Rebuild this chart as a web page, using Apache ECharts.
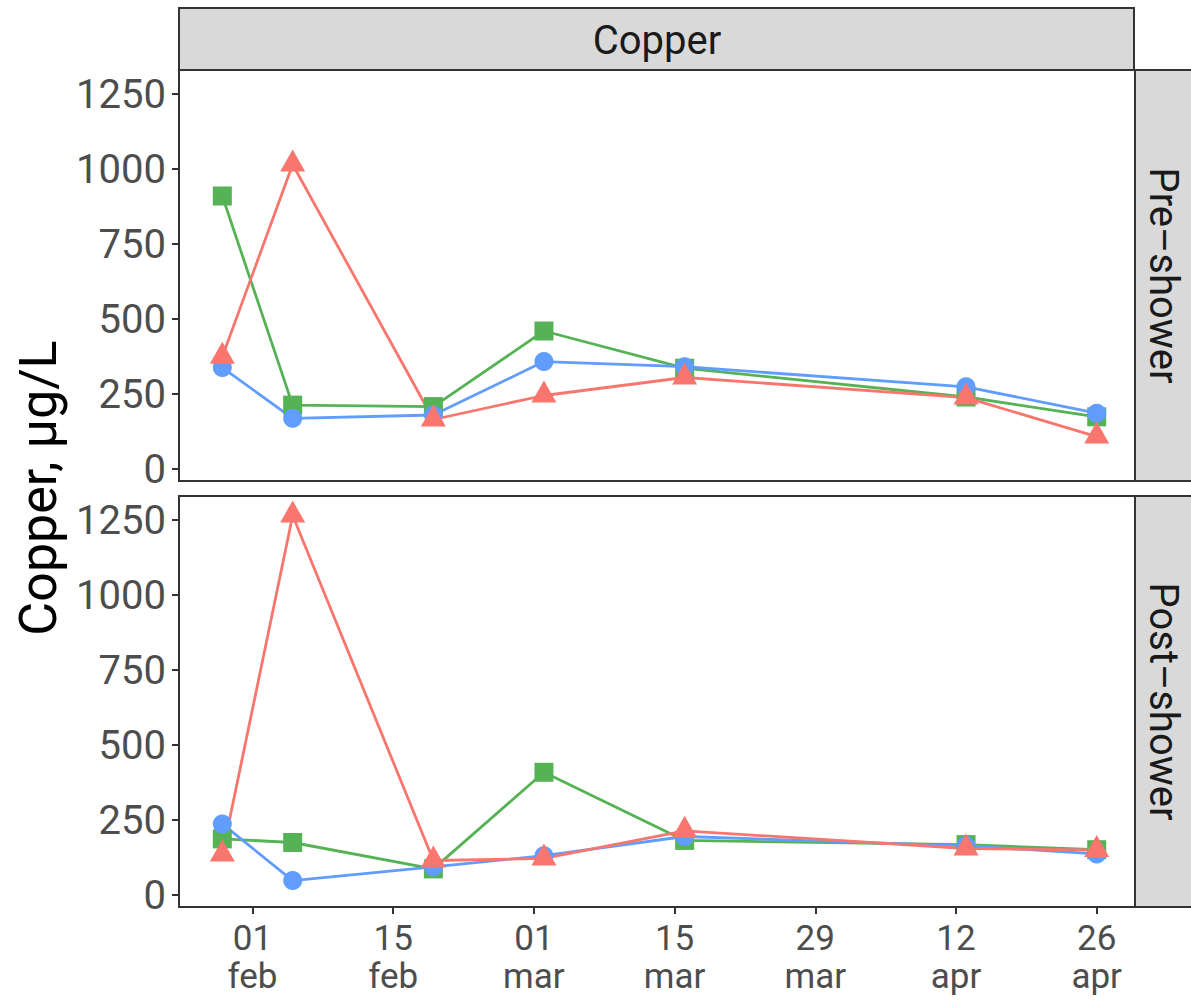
<!DOCTYPE html>
<html><head><meta charset="utf-8">
<script src="https://cdn.jsdelivr.net/npm/echarts@6/dist/echarts.min.js"></script>
<style>html,body{margin:0;padding:0;background:#fff}#chart{width:1191px;height:1002px}</style>
</head><body><div id="chart"></div>
<script>
// ---- data ----
const sampleDates = ['2019-01-29','2019-02-05','2019-02-19','2019-03-02','2019-03-16','2019-04-13','2019-04-26'];
const preGreen  = [910, 213, 208, 460, 336, 240, 174];
const preBlue   = [338, 169, 180, 358, 341, 274, 186];
const preRed    = [374, 1015, 165, 245, 305, 238, 108];
const postGreen = [187, 175, 87, 409, 182, 168, 151];
const postBlue  = [237, 48, 94, 131, 195, 164, 137];
const postRed   = [135, 1265, 115, 122, 214, 155, 150];
const tickDates  = ['2019-02-01','2019-02-15','2019-03-01','2019-03-15','2019-03-29','2019-04-12','2019-04-26'];
const tickLabels = ['01\nfeb','15\nfeb','01\nmar','15\nmar','29\nmar','12\napr','26\napr'];
const yTicks = [0, 250, 500, 750, 1000, 1250];
const panelNames = ['Pre–shower', 'Post–shower'];
const facetTitle = 'Copper';
const yTitle = 'Copper, µg/L';

// ---- helpers ----
const DAY = 86400000;
const ORIGIN = Date.UTC(2019, 1, 1);
function dayOf(s) { const p = s.split('-').map(Number); return (Date.UTC(p[0], p[1] - 1, p[2]) - ORIGIN) / DAY; }
const xDays = sampleDates.map(dayOf);
const tickDays = tickDates.map(dayOf);

const GREEN = '#55B255', BLUE = '#619CFF', RED = '#F8766D';
const FONT = 'Roboto';
const groups = [
  { name: 'Group B', color: GREEN, symbol: 'rect', size: 19, offset: [0, 0] },
  { name: 'Group C', color: BLUE, symbol: 'circle', size: 19, offset: [0, 0] },
  { name: 'Group A', color: RED, symbol: 'triangle', size: [25, 22], offset: [0, -4] }
];
const panelData = [[preGreen, preBlue, preRed], [postGreen, postBlue, postRed]];

const L = 179, W = 956;
const grids = [
  { left: L, top: 70, width: W, height: 411 },
  { left: L, top: 496, width: W, height: 411 }
].map(g => Object.assign(g, { show: true, borderColor: '#333333', borderWidth: 2, backgroundColor: '#ffffff', containLabel: false }));

const xMin = -7.31, xMax = 87.81;
const xAxes = [0, 1].map(i => ({
  type: 'value', gridIndex: i, min: xMin, max: xMax, position: 'bottom',
  splitLine: { show: false }, axisLine: { show: false, onZero: false },
  axisTick: { show: i === 1, customValues: tickDays, length: 7, lineStyle: { color: '#333333', width: 2 } },
  axisLabel: {
    show: i === 1, customValues: tickDays, margin: 12,
    fontFamily: FONT, fontSize: 35, lineHeight: 38, color: '#4D4D4D',
    formatter: v => { const k = tickDays.findIndex(t => Math.abs(t - v) < 1e-6); return k >= 0 ? tickLabels[k] : ''; }
  }
}));
const yAxes = [0, 1].map(i => ({
  type: 'value', gridIndex: i, min: -40, max: 1330, position: 'left',
  splitLine: { show: false }, axisLine: { show: false, onZero: false },
  axisTick: { show: true, customValues: yTicks, length: 7, lineStyle: { color: '#333333', width: 2 } },
  axisLabel: { customValues: yTicks, margin: 13, fontFamily: FONT, fontSize: 40, color: '#4D4D4D',
    formatter: v => String(Math.round(v)) }
}));

const series = [];
[0, 1].forEach(p => {
  groups.forEach((g, k) => {
    series.push({
      type: 'line', name: g.name, xAxisIndex: p, yAxisIndex: p,
      data: xDays.map((x, j) => [x, panelData[p][k][j]]),
      symbol: 'none', lineStyle: { color: g.color, width: 2.8 }, z: 2, silent: true, animation: false
    });
  });
  groups.forEach((g, k) => {
    series.push({
      type: 'scatter', name: g.name, xAxisIndex: p, yAxisIndex: p,
      data: xDays.map((x, j) => [x, panelData[p][k][j]]),
      symbol: g.symbol, symbolSize: g.size, symbolOffset: g.offset,
      itemStyle: { color: g.color, opacity: 1 }, z: 3 + k, animation: false
    });
  });
});

const stripStyle = { fill: '#D9D9D9', stroke: '#333333', lineWidth: 2 };
const textStyle = (t, size, color) => ({ text: t, fill: color, font: size + 'px ' + FONT,
  textAlign: 'center', textVerticalAlign: 'middle', align: 'center', verticalAlign: 'middle' });
const graphic = [
  { type: 'rect', shape: { x: L, y: 8, width: W - 1, height: 62 }, style: stripStyle, z: 10 },
  { type: 'text', x: L + W / 2, y: 40, style: textStyle(facetTitle, 40, '#1A1A1A'), z: 11 },
  { type: 'rect', shape: { x: 1135, y: 70, width: 80, height: 411 }, style: stripStyle, z: 10 },
  { type: 'text', x: 1163, y: 275.5, rotation: -Math.PI / 2, style: textStyle(panelNames[0], 40, '#1A1A1A'), z: 11 },
  { type: 'rect', shape: { x: 1135, y: 496, width: 80, height: 411 }, style: stripStyle, z: 10 },
  { type: 'text', x: 1163, y: 701.5, rotation: -Math.PI / 2, style: textStyle(panelNames[1], 40, '#1A1A1A'), z: 11 },
  { type: 'text', x: 38, y: 488, rotation: Math.PI / 2, style: textStyle(yTitle, 52, '#000000'), z: 11 }
];

const chart = echarts.init(document.getElementById('chart'), null, { renderer: 'svg' });
chart.setOption({
  backgroundColor: '#ffffff', animation: false,
  grid: grids, xAxis: xAxes, yAxis: yAxes, series: series, graphic: graphic
});
</script></body></html>
